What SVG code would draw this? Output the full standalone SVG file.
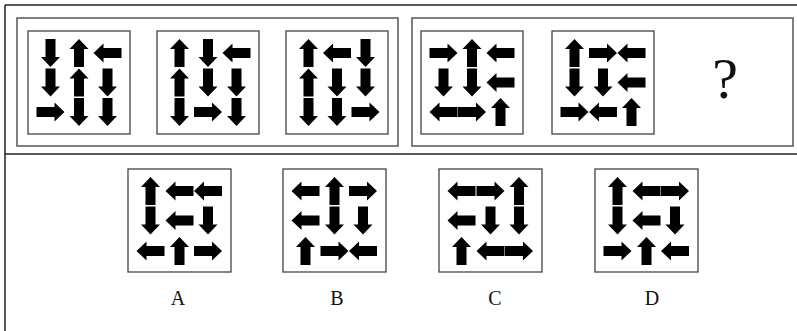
<svg xmlns="http://www.w3.org/2000/svg" xmlns:xlink="http://www.w3.org/1999/xlink" width="797" height="331" viewBox="0 0 797 331">
<style>
.frame{stroke:#222;stroke-width:1.5;fill:none}
.group{stroke:#555;stroke-width:1.5;fill:none}
.box{stroke:#444;stroke-width:1.3;fill:#fff}
.lbl{font-family:"Liberation Serif","Times New Roman",serif;font-size:20px;fill:#111;text-anchor:middle}
.q{font-family:"Liberation Serif","Times New Roman",serif;font-size:58px;fill:#111;text-anchor:middle}
</style>
<defs>
<path id="ar" d="M-14,-5 H4 V-9.5 L14,0 L4,9.5 V5 H-14 Z" fill="#000"/>
<g id="R"><use xlink:href="#ar" href="#ar"/></g>
<g id="D"><use xlink:href="#ar" href="#ar" transform="rotate(90)"/></g>
<g id="L"><use xlink:href="#ar" href="#ar" transform="rotate(180)"/></g>
<g id="U"><use xlink:href="#ar" href="#ar" transform="rotate(-90)"/></g>
</defs>
<rect width="797" height="331" fill="#fff"/>
<line class="frame" x1="5" y1="5" x2="797" y2="5"/>
<line class="frame" x1="5" y1="5" x2="5" y2="331"/>
<line class="frame" x1="5" y1="154" x2="797" y2="154"/>
<rect class="group" x="17" y="18" width="381" height="128"/>
<rect class="group" x="412" y="18" width="381" height="128"/>

<g id="box1" transform="translate(28,31)">
<rect class="box" x="0" y="0" width="102" height="103"/>
<use href="#D" x="22.5" y="22"/><use href="#U" x="51" y="22"/><use href="#L" x="79.5" y="22"/>
<use href="#D" x="22.5" y="51.5"/><use href="#U" x="51" y="51.5"/><use href="#D" x="79.5" y="51.5"/>
<use href="#R" x="22.5" y="81"/><use href="#D" x="51" y="81"/><use href="#D" x="79.5" y="81"/>
</g>
<g id="box2" transform="translate(157,31)">
<rect class="box" x="0" y="0" width="102" height="103"/>
<use href="#U" x="22.5" y="22"/><use href="#D" x="51" y="22"/><use href="#L" x="79.5" y="22"/>
<use href="#U" x="22.5" y="51.5"/><use href="#D" x="51" y="51.5"/><use href="#D" x="79.5" y="51.5"/>
<use href="#D" x="22.5" y="81"/><use href="#R" x="51" y="81"/><use href="#D" x="79.5" y="81"/>
</g>
<g id="box3" transform="translate(286,31)">
<rect class="box" x="0" y="0" width="102" height="103"/>
<use href="#U" x="22.5" y="22"/><use href="#L" x="51" y="22"/><use href="#D" x="79.5" y="22"/>
<use href="#U" x="22.5" y="51.5"/><use href="#D" x="51" y="51.5"/><use href="#D" x="79.5" y="51.5"/>
<use href="#D" x="22.5" y="81"/><use href="#D" x="51" y="81"/><use href="#R" x="79.5" y="81"/>
</g>
<g id="box4" transform="translate(421,31)">
<rect class="box" x="0" y="0" width="102" height="103"/>
<use href="#R" x="22.5" y="22"/><use href="#U" x="51" y="22"/><use href="#L" x="79.5" y="22"/>
<use href="#D" x="22.5" y="51.5"/><use href="#D" x="51" y="51.5"/><use href="#L" x="79.5" y="51.5"/>
<use href="#L" x="22.5" y="81"/><use href="#R" x="51" y="81"/><use href="#U" x="79.5" y="81"/>
</g>
<g id="box5" transform="translate(552,31)">
<rect class="box" x="0" y="0" width="102" height="103"/>
<use href="#U" x="22.5" y="22"/><use href="#R" x="51" y="22"/><use href="#L" x="79.5" y="22"/>
<use href="#D" x="22.5" y="51.5"/><use href="#D" x="51" y="51.5"/><use href="#L" x="79.5" y="51.5"/>
<use href="#R" x="22.5" y="81"/><use href="#L" x="51" y="81"/><use href="#U" x="79.5" y="81"/>
</g>
<text class="q" x="725" y="98">?</text>

<g id="optA" transform="translate(128,169)">
<rect class="box" x="0" y="0" width="103" height="103"/>
<use href="#U" x="22.5" y="22"/><use href="#L" x="51.5" y="22"/><use href="#L" x="80" y="22"/>
<use href="#D" x="22.5" y="51.5"/><use href="#L" x="51.5" y="51.5"/><use href="#D" x="80" y="51.5"/>
<use href="#L" x="22.5" y="82"/><use href="#U" x="51.5" y="82"/><use href="#R" x="80" y="82"/>
</g>
<text class="lbl" x="178" y="305">A</text>
<g id="optB" transform="translate(283,169)">
<rect class="box" x="0" y="0" width="103" height="103"/>
<use href="#L" x="22.5" y="22"/><use href="#U" x="51.5" y="22"/><use href="#R" x="80" y="22"/>
<use href="#L" x="22.5" y="51.5"/><use href="#D" x="51.5" y="51.5"/><use href="#D" x="80" y="51.5"/>
<use href="#U" x="22.5" y="82"/><use href="#R" x="51.5" y="82"/><use href="#L" x="80" y="82"/>
</g>
<text class="lbl" x="337" y="305">B</text>
<g id="optC" transform="translate(439,169)">
<rect class="box" x="0" y="0" width="103" height="103"/>
<use href="#L" x="22.5" y="22"/><use href="#R" x="51.5" y="22"/><use href="#U" x="80" y="22"/>
<use href="#L" x="22.5" y="51.5"/><use href="#D" x="51.5" y="51.5"/><use href="#D" x="80" y="51.5"/>
<use href="#U" x="22.5" y="82"/><use href="#L" x="51.5" y="82"/><use href="#R" x="80" y="82"/>
</g>
<text class="lbl" x="495" y="305">C</text>
<g id="optD" transform="translate(595,169)">
<rect class="box" x="0" y="0" width="103" height="103"/>
<use href="#U" x="22.5" y="22"/><use href="#L" x="51.5" y="22"/><use href="#R" x="80" y="22"/>
<use href="#D" x="22.5" y="51.5"/><use href="#L" x="51.5" y="51.5"/><use href="#D" x="80" y="51.5"/>
<use href="#R" x="22.5" y="82"/><use href="#U" x="51.5" y="82"/><use href="#L" x="80" y="82"/>
</g>
<text class="lbl" x="652" y="305">D</text>
</svg>
